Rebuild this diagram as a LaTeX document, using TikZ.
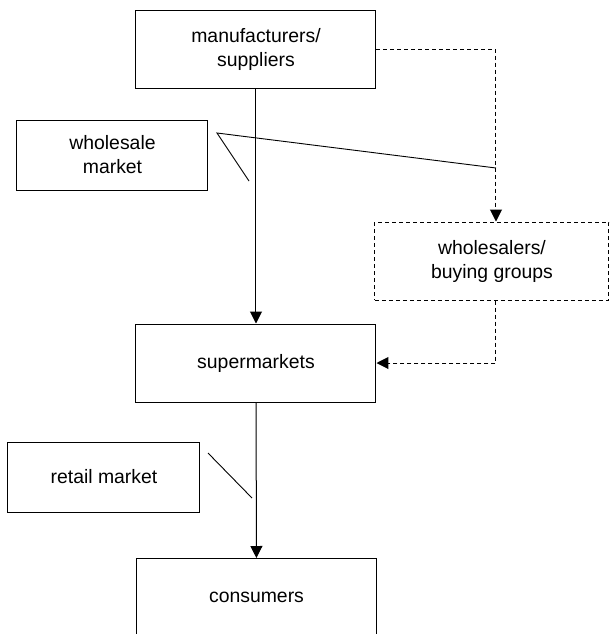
\documentclass[tikz,border=0pt]{standalone}
\usepackage{fontspec}
\setmainfont{Liberation Sans}
\usetikzlibrary{arrows.meta, calc}

\tikzset{
  chainbox/.style={draw, line width=0.5pt, minimum width=120pt, minimum height=39pt,
    align=center, inner sep=0pt, font=\fontsize{9.7}{12}\selectfont},
  marketbox/.style={chainbox, minimum width=96pt, minimum height=35pt},
  flow/.style={line width=0.5pt, -{Triangle[length=6pt,width=6pt]}},
  dashflow/.style={flow, dash pattern=on 2pt off 1.5pt},
  callout/.style={line width=0.45pt}
}

\begin{document}
\begin{tikzpicture} [x=0.5pt, y=-0.5pt]
        \useasboundingbox (0,0) rectangle (610,634);

        % boxes of the supply chain
        \node[chainbox] (manu) at (256,49) {manufacturers/\\suppliers};
        \node[chainbox] (super) at (256,363) {supermarkets};
        \node[chainbox] (cons) at (256.5,597.5) {consumers};
        \node[chainbox, dash pattern=on 2pt off 1.5pt, minimum width=117pt] (whs) at (492,261) {wholesalers/\\buying groups};

        % market labels
        \node[marketbox, minimum width=95.5pt] (wmarket) at (112.5,155) {wholesale\\market};
        \node[marketbox] (rmarket) at (104,477) {retail market};

        % flows
        \draw[flow] (manu) -- (super);
        \draw[flow] (super) -- (cons);
        \draw[dashflow] (manu.east) -| ([xshift=2pt]whs.north);
        \draw[dashflow] ([xshift=2pt]whs.south) |- (super.east);

        % pointers from the market labels
        \coordinate (wmtip) at (217,133);
        \coordinate (wmend) at (496,168);
        \coordinate (wmfoot) at (249,181);
        \draw[callout] (wmend) -- (wmtip) -- (wmfoot);

        \coordinate (rmtip) at (208,453);
        \coordinate (rmfoot) at (252,498);
        \draw[callout] (rmtip) -- (rmfoot);
    \end{tikzpicture}
\end{document}
